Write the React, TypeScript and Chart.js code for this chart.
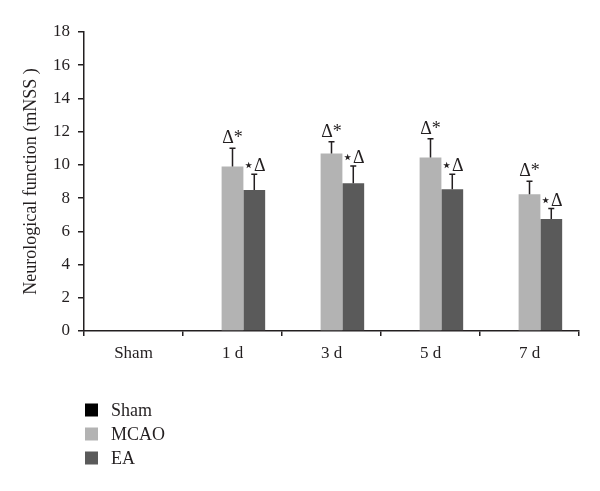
import React, { useEffect, useRef } from "react";
import { Chart, registerables } from "chart.js";

Chart.register(...registerables);

const categories = ["Sham", "1 d", "3 d", "5 d", "7 d"];
const seriesNames = ["Sham", "MCAO", "EA"];
const shamValues = [0, null, null, null, null];
const mcaoValues = [null, 9.9, 10.68, 10.44, 8.23];
const eaValues = [null, 8.49, 8.9, 8.54, 6.75];
const mcaoErrors = [0, 1.1, 0.71, 1.14, 0.79];
const eaErrors = [0, 0.95, 1.04, 0.9, 0.62];
const mcaoMarks = ["", "Δ*", "Δ*", "Δ*", "Δ*"];
const eaMarks = ["", "⋆Δ", "⋆Δ", "⋆Δ", "⋆Δ"];
const yTicks = [0, 2, 4, 6, 8, 10, 12, 14, 16, 18];
const colors = ["#000000", "#b3b3b3", "#5a5a5a"];

const FONT = "'Liberation Serif', 'DejaVu Serif', serif";
const INK = "#231f20";

export default function App() {
  const ref = useRef<HTMLCanvasElement | null>(null);

  useEffect(() => {
    document.body.style.margin = "0";
    const canvas = ref.current;
    if (!canvas) return;

    const errorPlugin = {
      id: "errorBars",
      afterDatasetsDraw(chart: any) {
        const ctx = chart.ctx;
        const y = chart.scales.y;
        const sets = [
          { idx: 1, vals: mcaoValues, errs: mcaoErrors, marks: mcaoMarks, gap: 5 },
          { idx: 2, vals: eaValues, errs: eaErrors, marks: eaMarks, gap: 3 },
        ];
        ctx.save();
        for (const s of sets) {
          const meta = chart.getDatasetMeta(s.idx);
          meta.data.forEach((bar: any, i: number) => {
            const v = s.vals[i];
            if (v == null) return;
            const top = y.getPixelForValue(v + s.errs[i]);
            const base = y.getPixelForValue(v);
            ctx.strokeStyle = INK;
            ctx.lineWidth = 1.5;
            ctx.beginPath();
            ctx.moveTo(bar.x, base);
            ctx.lineTo(bar.x, top);
            ctx.moveTo(bar.x - 3, top);
            ctx.lineTo(bar.x + 3, top);
            ctx.stroke();
            ctx.fillStyle = INK;
            ctx.font = `18px ${FONT}`;
            ctx.textAlign = "center";
            ctx.textBaseline = "alphabetic";
            ctx.fillText(s.marks[i], bar.x, top - s.gap);
          });
        }
        ctx.restore();
      },
    };

    const legendPlugin = {
      id: "customLegend",
      afterDraw(chart: any) {
        const ctx = chart.ctx;
        ctx.save();
        seriesNames.forEach((name, i) => {
          const cy = 410 + i * 24;
          ctx.fillStyle = colors[i];
          ctx.fillRect(85, cy - 6.5, 13, 13);
          ctx.fillStyle = INK;
          ctx.font = `18px ${FONT}`;
          ctx.textAlign = "left";
          ctx.textBaseline = "middle";
          ctx.fillText(name, 111, cy + 1);
        });
        ctx.restore();
      },
    };

    const chart = new Chart(canvas, {
      type: "bar",
      data: {
        labels: categories,
        datasets: [
          { label: seriesNames[0], data: shamValues as any, backgroundColor: colors[0], borderWidth: 0 },
          { label: seriesNames[1], data: mcaoValues as any, backgroundColor: colors[1], borderWidth: 0 },
          { label: seriesNames[2], data: eaValues as any, backgroundColor: colors[2], borderWidth: 0 },
        ],
      },
      options: {
        responsive: false,
        animation: false,
        layout: { padding: { top: 32, left: 0, right: 21, bottom: 0 } },
        plugins: { legend: { display: false }, tooltip: { enabled: false } },
        datasets: { bar: { categoryPercentage: 0.66, barPercentage: 1.0, skipNull: false } },
        scales: {
          x: {
            offset: true,
            grid: { display: true, offset: true, drawOnChartArea: false, drawTicks: true, tickLength: 5, color: INK, lineWidth: 1.5 },
            border: { display: true, color: INK, width: 1.5 },
            ticks: { color: INK, font: { family: FONT, size: 17 }, padding: 7 },
            afterFit(scale: any) {
              scale.height = 160;
            },
          },
          y: {
            min: 0,
            max: 18,
            afterBuildTicks(scale: any) {
              scale.ticks = yTicks.map((v) => ({ value: v }));
            },
            grid: { display: true, drawOnChartArea: false, drawTicks: true, tickLength: 6, color: INK, lineWidth: 1.5 },
            border: { display: true, color: INK, width: 1.5 },
            ticks: { color: INK, font: { family: FONT, size: 17 }, padding: 8 },
            title: {
              display: true,
              text: "Neurological function (mNSS )",
              color: INK,
              font: { family: FONT, size: 18 },
              padding: { top: 20, bottom: 0 },
            },
            afterFit(scale: any) {
              scale.width = 84;
            },
          },
        },
      },
      plugins: [errorPlugin, legendPlugin],
    });

    return () => chart.destroy();
  }, []);

  return (
    <div style={{ width: 600, height: 491, background: "#fff" }}>
      <canvas ref={ref} width={600} height={491} />
    </div>
  );
}
